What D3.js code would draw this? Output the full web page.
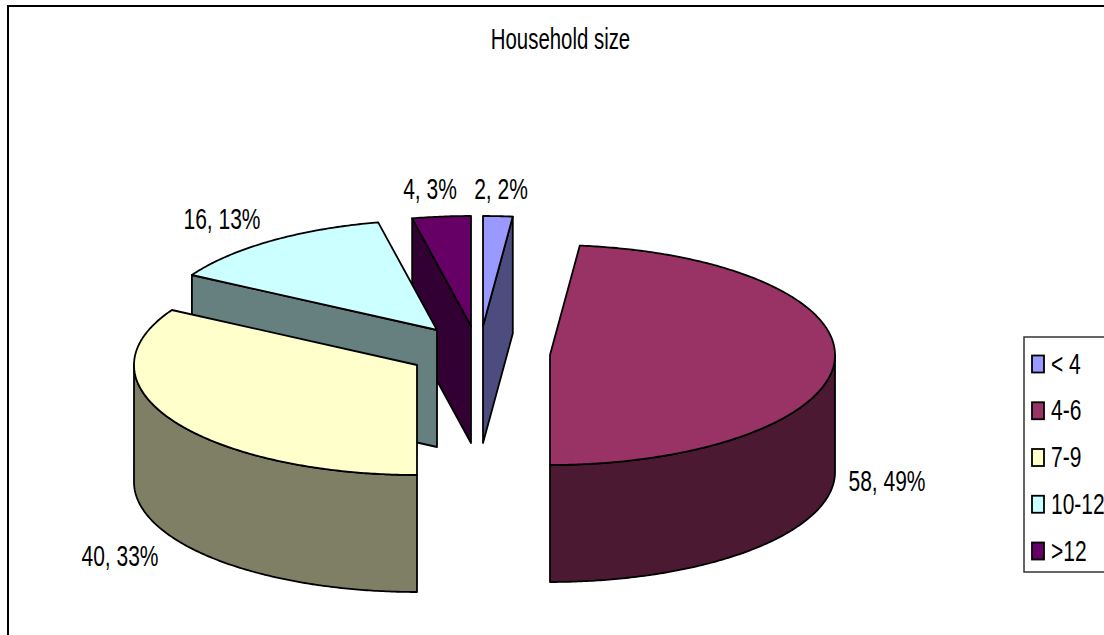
<!DOCTYPE html>
<html>
<head>
<meta charset="utf-8">
<script src="https://cdn.jsdelivr.net/npm/d3@7"></script>
<style>
html,body{margin:0;padding:0;background:#fff;overflow:hidden}
svg{display:block}
text{font-family:"Liberation Sans",Arial,sans-serif;fill:#000}
</style>
</head>
<body>
<svg id="chart" width="1104" height="635"></svg>
<script>
const categories = ["< 4", "4-6", "7-9", "10-12", ">12"];
const values = [2, 58, 40, 16, 4];
const sliceLabels = ["2, 2%", "58, 49%", "40, 33%", "16, 13%", "4, 3%"];
const topColors = ["#9999FF", "#993366", "#FFFFCC", "#CCFFFF", "#660066"];
const sideColors = ["#4C4C7F", "#4C1933", "#7F7F66", "#667F7F", "#330033"];
const apexX = [483, 550, 417, 437, 471];
const apexY = [326, 355, 365, 330, 326];
const labelX = [501, 887, 120, 222, 430];
const labelY = [199, 491, 566, 229, 199];
const drawOrder = [0, 4, 3, 2, 1];

const RY = 110, DEPTH = 117, FONT = 30, SX = 0.70;

const svg = d3.select("#chart");
svg.append("rect").attr("width", 1104).attr("height", 635).attr("fill", "#fff");
svg.append("rect").attr("x", 8).attr("y", 6).attr("width", 1200).attr("height", 800)
  .attr("fill", "none").attr("stroke", "#000").attr("stroke-width", 2);

const label = (x, y, s, anchor, sx = SX) => svg.append("text")
  .attr("transform", `translate(${x},${y}) scale(${sx},1)`)
  .attr("text-anchor", anchor).attr("font-size", FONT).text(s);

label(560.5, 49, "Household size", "middle", 0.68);

const arcs = d3.pie().sort(null).value(d => d).startAngle(0).endAngle(2 * Math.PI)(values);
const px = d3.scaleLinear().domain([-1, 0, 1]).range([-283, 0, 285]);
const py = d3.scaleLinear().domain([-1, 1]).range([RY, -RY]);

function arcPoints(i, a0, a1, dy) {
  const n = Math.max(2, Math.ceil(Math.abs(a1 - a0) / 0.01));
  return d3.range(n + 1).map(k => {
    const a = a0 + (a1 - a0) * k / n;
    return [apexX[i] + px(Math.sin(a)), apexY[i] + py(Math.cos(a)) + dy];
  });
}
const line = d3.line();
const stroke = sel => sel.attr("stroke", "#000").attr("stroke-width", 1.8).attr("stroke-linejoin", "round");
const face = (pts, fill) => svg.append("path").attr("d", line(pts) + "Z").attr("fill", fill).call(stroke);
const wall = (i, p) => face([[apexX[i], apexY[i]], p, [p[0], p[1] + DEPTH], [apexX[i], apexY[i] + DEPTH]], sideColors[i]);

drawOrder.forEach(i => {
  const a = arcs[i];
  const s0 = arcPoints(i, a.startAngle, a.startAngle, 0)[0];
  const e0 = arcPoints(i, a.endAngle, a.endAngle, 0)[0];
  // radial wall seen from the front: trailing edge on the right side of the back half
  if (a.endAngle < Math.PI / 2) wall(i, e0);
  // radial wall seen from the front: leading edge on the left side of the back half
  if (a.startAngle >= 1.5 * Math.PI - 0.01) wall(i, s0);
  // outer curved wall across the front half
  const c0 = Math.max(a.startAngle, Math.PI / 2), c1 = Math.min(a.endAngle, 1.5 * Math.PI);
  if (c1 > c0) {
    face(arcPoints(i, c0, c1, 0).concat(arcPoints(i, c1, c0, DEPTH)), sideColors[i]);
  }
  // top face
  face([[apexX[i], apexY[i]]].concat(arcPoints(i, a.startAngle, a.endAngle, 0)), topColors[i]);
});

values.forEach((v, i) => label(labelX[i], labelY[i], sliceLabels[i], "middle"));

// legend
svg.append("rect").attr("x", 1024).attr("y", 337).attr("width", 200).attr("height", 235)
  .attr("fill", "#fff").attr("stroke", "#333").attr("stroke-width", 1.5);
const ly = d3.scalePoint().domain(categories).range([364, 551]);
categories.forEach((c, i) => {
  svg.append("rect").attr("x", 1032).attr("y", ly(c) - 8.5).attr("width", 12).attr("height", 17)
    .attr("fill", topColors[i]).attr("stroke", "#000").attr("stroke-width", 1.8);
  label(1051, ly(c) + 9.5, c, "start");
});
</script>
</body>
</html>
